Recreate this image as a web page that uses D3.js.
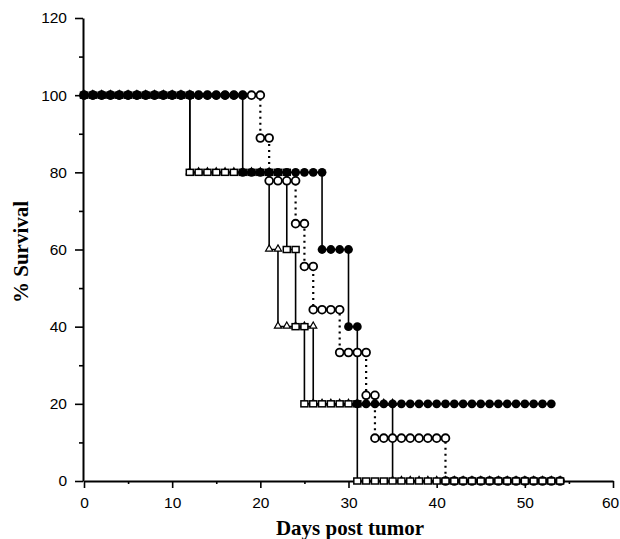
<!DOCTYPE html>
<html>
<head>
<meta charset="utf-8">
<script src="https://cdn.jsdelivr.net/npm/d3@7"></script>
<style>
  body { margin: 0; background: #fff; }
  svg { display: block; }
  .tick text { font-family: "Liberation Sans", Arial, sans-serif; font-size: 15.5px; fill: #000; }
  .title { font-family: "Liberation Serif", "Times New Roman", serif; font-weight: bold; font-size: 21px; fill: #000; }
</style>
</head>
<body>
<script>
// survival curves, one marker per day, [day, % survival]
// a drop day appears twice (old level, new level) so the line steps
var filledCircles = [
  [0,100],[1,100],[2,100],[3,100],[4,100],[5,100],[6,100],[7,100],[8,100],[9,100],[10,100],
  [11,100],[12,100],[13,100],[14,100],[15,100],[16,100],[17,100],[18,100],
  [18,80],[19,80],[20,80],[21,80],[22,80],[23,80],[24,80],[25,80],[26,80],[27,80],
  [27,60],[28,60],[29,60],[30,60],
  [30,40],[31,40],
  [31,20],[32,20],[33,20],[34,20],[35,20],[36,20],[37,20],[38,20],[39,20],[40,20],[41,20],
  [42,20],[43,20],[44,20],[45,20],[46,20],[47,20],[48,20],[49,20],[50,20],[51,20],[52,20],[53,20]
];

var openCircles = [
  [0,100],[1,100],[2,100],[3,100],[4,100],[5,100],[6,100],[7,100],[8,100],[9,100],[10,100],
  [11,100],[12,100],[13,100],[14,100],[15,100],[16,100],[17,100],[18,100],[19,100],[20,100],
  [20,88.9],[21,88.9],
  [21,77.8],[22,77.8],[23,77.8],[24,77.8],
  [24,66.7],[25,66.7],
  [25,55.6],[26,55.6],
  [26,44.4],[27,44.4],[28,44.4],[29,44.4],
  [29,33.3],[30,33.3],[31,33.3],[32,33.3],
  [32,22.2],[33,22.2],
  [33,11.1],[34,11.1],[35,11.1],[36,11.1],[37,11.1],[38,11.1],[39,11.1],[40,11.1],[41,11.1],
  [41,0],[42,0],[43,0],[44,0],[45,0],[46,0],[47,0],[48,0],[49,0],[50,0],[51,0],[52,0],[53,0],[54,0]
];

var openTriangles = [
  [0,100],[1,100],[2,100],[3,100],[4,100],[5,100],[6,100],[7,100],[8,100],[9,100],[10,100],
  [11,100],[12,100],
  [12,80],[13,80],[14,80],[15,80],[16,80],[17,80],[18,80],[19,80],[20,80],[21,80],
  [21,60],[22,60],
  [22,40],[23,40],[24,40],[25,40],[26,40],
  [26,20],[27,20],[28,20],[29,20],[30,20],[31,20],[32,20],[33,20],[34,20],[35,20],
  [35,0],[36,0],[37,0],[38,0],[39,0],[40,0],[41,0],[42,0],[43,0],[44,0],[45,0],
  [46,0],[47,0],[48,0],[49,0],[50,0],[51,0],[52,0],[53,0],[54,0]
];

var openSquares = [
  [0,100],[1,100],[2,100],[3,100],[4,100],[5,100],[6,100],[7,100],[8,100],[9,100],[10,100],
  [11,100],[12,100],
  [12,80],[13,80],[14,80],[15,80],[16,80],[17,80],[18,80],[19,80],[20,80],[21,80],[22,80],[23,80],
  [23,60],[24,60],
  [24,40],[25,40],
  [25,20],[26,20],[27,20],[28,20],[29,20],[30,20],[31,20],
  [31,0],[32,0],[33,0],[34,0],[35,0],[36,0],[37,0],[38,0],[39,0],[40,0],[41,0],[42,0],
  [43,0],[44,0],[45,0],[46,0],[47,0],[48,0],[49,0],[50,0],[51,0],[52,0],[53,0],[54,0]
];

var xMajor = [0, 10, 20, 30, 40, 50, 60];
var xMinor = [5, 15, 25, 35, 45, 55];
var yMajor = [0, 20, 40, 60, 80, 100, 120];
var yMinor = [10, 30, 50, 70, 90, 110];

var width = 620, height = 539;
var margin = {top: 18, right: 7, bottom: 58, left: 83};

var svg = d3.select("body").append("svg")
    .attr("width", width)
    .attr("height", height);

var x = d3.scaleLinear().domain([0, 60]).range([margin.left + 1, width - margin.right]);
var y = d3.scaleLinear().domain([0, 120]).range([height - margin.bottom, margin.top]);

// axes
var xAxis = svg.append("g")
    .attr("transform", "translate(0," + y(0) + ")")
    .call(d3.axisBottom(x).tickValues(xMajor).tickSize(7).tickSizeOuter(0).tickPadding(9));
// last label sits against the page edge
xAxis.selectAll(".tick text").filter(function(d) { return d === 60; }).attr("dx", -3);
svg.append("g")
    .attr("transform", "translate(0," + y(0) + ")")
    .call(d3.axisBottom(x).tickValues(xMinor).tickSize(3).tickFormat(""))
    .select(".domain").remove();

var yAxis = svg.append("g")
    .attr("transform", "translate(" + margin.left + ",0)")
    .call(d3.axisLeft(y).tickValues(yMajor).tickSize(8).tickSizeOuter(0).tickPadding(8));
svg.append("g")
    .attr("transform", "translate(" + margin.left + ",0)")
    .call(d3.axisLeft(y).tickValues(yMinor).tickSize(4).tickFormat(""))
    .select(".domain").remove();

svg.selectAll(".domain").attr("stroke-width", 2);
svg.selectAll(".tick line").attr("stroke-width", 1.6);

// axis titles
svg.append("text")
    .attr("class", "title")
    .attr("x", 350)
    .attr("y", 535)
    .attr("text-anchor", "middle")
    .text("Days post tumor");

svg.append("text")
    .attr("class", "title")
    .attr("transform", "translate(28,252) rotate(-90)")
    .attr("text-anchor", "middle")
    .text("% Survival");

// step lines
var line = d3.line()
    .x(function(d) { return x(d[0]); })
    .y(function(d) { return y(d[1]); });

function drawLine(data, dotted) {
    svg.append("path")
        .datum(data)
        .attr("d", line)
        .attr("fill", "none")
        .attr("stroke", "#000")
        .attr("stroke-width", dotted ? 2.2 : 1.6)
        .attr("stroke-dasharray", dotted ? "2,4" : null);
}

drawLine(openSquares, false);
drawLine(openTriangles, false);
drawLine(filledCircles, false);
drawLine(openCircles, true);

// markers (open circles underneath, as in the scan)
svg.append("g").selectAll("circle")
    .data(openCircles)
    .enter().append("circle")
    .attr("cx", function(d) { return x(d[0]); })
    .attr("cy", function(d) { return y(d[1]); })
    .attr("r", 3.9)
    .attr("fill", "#fff")
    .attr("stroke", "#000")
    .attr("stroke-width", 1.8);

var tri = d3.symbol().type(d3.symbolTriangle).size(22);
svg.append("g").selectAll("path")
    .data(openTriangles)
    .enter().append("path")
    .attr("d", tri)
    .attr("transform", function(d) { return "translate(" + x(d[0]) + "," + (y(d[1]) - 0.5) + ")"; })
    .attr("fill", "#fff")
    .attr("stroke", "#000")
    .attr("stroke-width", 1.2);

svg.append("g").selectAll("rect")
    .data(openSquares)
    .enter().append("rect")
    .attr("x", function(d) { return x(d[0]) - 3.5; })
    .attr("y", function(d) { return y(d[1]) - 3; })
    .attr("width", 7)
    .attr("height", 6)
    .attr("fill", "#fff")
    .attr("stroke", "#000")
    .attr("stroke-width", 1.5);

svg.append("g").selectAll("circle")
    .data(filledCircles)
    .enter().append("circle")
    .attr("cx", function(d) { return x(d[0]); })
    .attr("cy", function(d) { return y(d[1]); })
    .attr("r", 4.4)
    .attr("fill", "#000");
</script>
</body>
</html>
